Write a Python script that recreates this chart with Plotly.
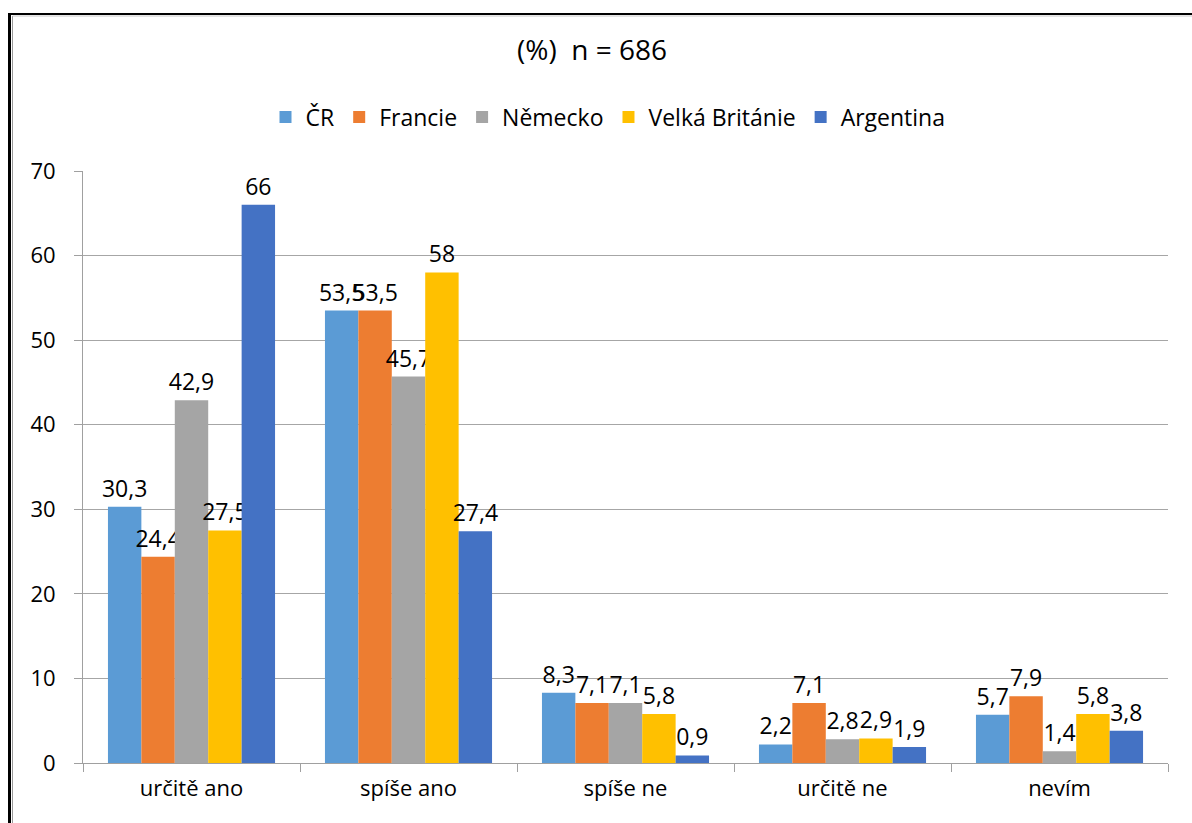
import plotly.graph_objects as go

categories = ["určitě ano", "spíše ano", "spíše ne", "určitě ne", "nevím"]
series_names = ["ČR", "Francie", "Německo", "Velká Británie", "Argentina"]
cr = [30.3, 53.5, 8.3, 2.2, 5.7]
francie = [24.4, 53.5, 7.1, 7.1, 7.9]
nemecko = [42.9, 45.7, 7.1, 2.8, 1.4]
velka_britanie = [27.5, 58, 5.8, 2.9, 5.8]
argentina = [66, 27.4, 0.9, 1.9, 3.8]
colors = ["#5B9BD5", "#ED7D31", "#A5A5A5", "#FFC000", "#4472C4"]
y_ticks = [0, 10, 20, 30, 40, 50, 60, 70]

FONT = "Open Sans"
W, H = 1192, 823
ML, MR, MT, MB = 83, 24, 171, 60


def fmt(v):
    return f"{v:g}".replace(".", ",")


fig = go.Figure()
for name, vals, col in zip(series_names,
                           [cr, francie, nemecko, velka_britanie, argentina],
                           colors):
    fig.add_trace(go.Bar(
        name=name, x=categories, y=vals,
        marker=dict(color=col, line=dict(width=0)),
        text=[fmt(v) for v in vals], textposition="outside",
        textfont=dict(family=FONT, size=23, color="#000000"),
        constraintext="none", cliponaxis=False,
    ))

# outer frame lines (pixel positions converted to paper coordinates)
pw, ph = W - ML - MR, H - MT - MB


def px(x):
    return (x - ML) / pw


def py(y):
    return (H - MB - y) / ph


shapes = [
    dict(type="line", xref="paper", yref="paper", x0=px(9), x1=px(1192),
         y0=py(14), y1=py(14), line=dict(color="#000000", width=2)),
    dict(type="line", xref="paper", yref="paper", x0=px(9.5), x1=px(9.5),
         y0=py(13), y1=py(823), line=dict(color="#000000", width=3)),
    dict(type="line", xref="paper", yref="paper", x0=px(12.5), x1=px(12.5),
         y0=py(16), y1=py(823), line=dict(color="#9a9a9a", width=1)),
    dict(type="line", xref="paper", yref="paper", x0=px(12.5), x1=px(1192),
         y0=py(16), y1=py(16), line=dict(color="#c8c8c8", width=1)),
]

fig.update_layout(
    width=W, height=H,
    margin=dict(l=ML, r=MR, t=MT, b=MB),
    paper_bgcolor="#ffffff", plot_bgcolor="#ffffff",
    font=dict(family=FONT, size=22, color="#000000"),
    title=dict(text="(%)  n = 686", x=px(592), xref="paper", xanchor="center",
               y=1 - 50 / H, yanchor="middle", yref="container",
               font=dict(family=FONT, size=28, color="#000000")),
    barmode="group", bargap=0.23, bargroupgap=0,
    showlegend=True,
    legend=dict(orientation="h", x=px(608), xanchor="center", xref="paper",
                y=py(117), yanchor="middle", yref="paper",
                font=dict(family=FONT, size=23, color="#000000"),
                itemwidth=30, traceorder="normal"),
    shapes=shapes,
)
fig.update_xaxes(
    type="category", showgrid=False, showline=True, linecolor="#a0a0a0",
    linewidth=1, ticks="outside", tickson="boundaries", ticklen=8,
    tickcolor="#a0a0a0", tickfont=dict(family=FONT, size=22),
    ticklabelstandoff=6, range=[-0.5, 4.5],
)
fig.update_yaxes(
    range=[0, 70], tickvals=y_ticks, showgrid=True, gridcolor="#a6a6a6",
    gridwidth=1, showline=True, linecolor="#a0a0a0", linewidth=1,
    ticks="outside", ticklen=8, tickcolor="#a0a0a0",
    tickfont=dict(family=FONT, size=22), ticklabelstandoff=14,
    zeroline=False,
)

fig.write_html("out.html")
